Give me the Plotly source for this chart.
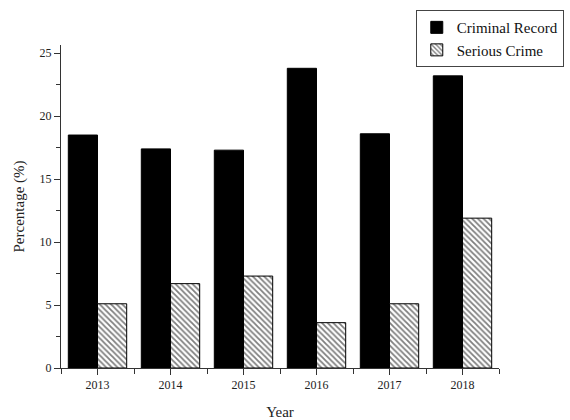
import plotly.graph_objects as go

years = ["2013", "2014", "2015", "2016", "2017", "2018"]
criminal_record = [18.5, 17.4, 17.3, 23.8, 18.6, 23.2]
serious_crime = [5.1, 6.7, 7.3, 3.6, 5.1, 11.9]

x_pos = list(range(len(years)))
SERIF = "Liberation Serif, Times New Roman, serif"

fig = go.Figure()
fig.add_trace(go.Bar(
    x=x_pos, y=criminal_record, name="Criminal Record",
    marker=dict(color="black", line=dict(color="black", width=1)),
))
fig.add_trace(go.Bar(
    x=x_pos, y=serious_crime, name="Serious Crime",
    marker=dict(
        color="white",
        line=dict(color="black", width=1),
        pattern=dict(shape="\\", fgcolor="black", bgcolor="white",
                     size=4, solidity=0.45),
    ),
))

fig.update_layout(
    width=570, height=420,
    margin=dict(l=61, r=71, t=45, b=52, autoexpand=False),
    paper_bgcolor="white", plot_bgcolor="white",
    barmode="group", bargap=0.2, bargroupgap=0,
    font=dict(family=SERIF, color="#222", size=12),
    showlegend=True,
    legend=dict(
        x=0.81, y=1.108, xanchor="left", yanchor="top",
        bordercolor="#444", borderwidth=1, bgcolor="white",
        font=dict(family=SERIF, size=15, color="#111"),
        tracegroupgap=0, itemwidth=30,
    ),
)

fig.update_xaxes(
    range=[-0.5, 5.5], automargin=False,
    tickmode="array", tickvals=x_pos, ticktext=years,
    ticks="outside", ticklen=6, tickcolor="#333", tickwidth=1,
    minor=dict(tick0=-0.5, dtick=1, ticks="outside", ticklen=5,
               tickcolor="#333", tickwidth=1),
    showline=True, linecolor="#333", linewidth=1,
    showgrid=False, zeroline=False,
    tickfont=dict(family=SERIF, size=12),
    title=dict(text="Year", font=dict(family=SERIF, size=15), standoff=15),
)
fig.update_yaxes(
    range=[0, 25.65], automargin=False,
    tickmode="linear", tick0=0, dtick=5,
    ticks="outside", ticklen=6, tickcolor="#333", tickwidth=1,
    minor=dict(dtick=2.5, ticks="outside", ticklen=4,
               tickcolor="#333", tickwidth=1),
    showline=True, linecolor="#333", linewidth=1,
    showgrid=False, zeroline=False,
    tickfont=dict(family=SERIF, size=12),
    title=dict(text="Percentage (%)", font=dict(family=SERIF, size=15), standoff=11),
)

fig.write_html("out.html")
